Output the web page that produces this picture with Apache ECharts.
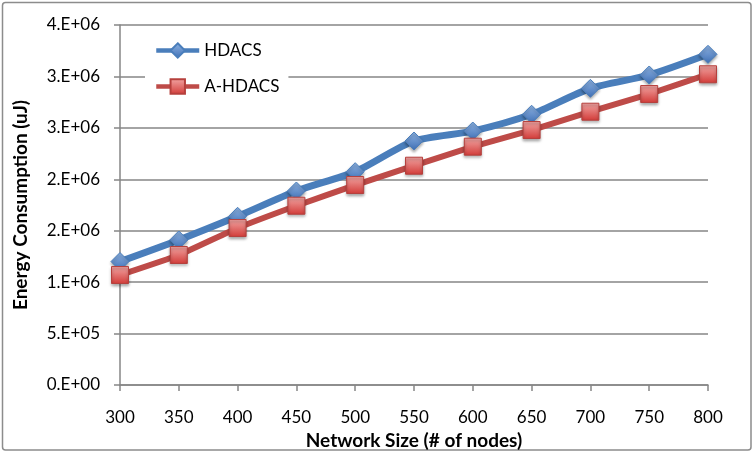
<!DOCTYPE html>
<html>
<head>
<meta charset="utf-8">
<script src="https://cdn.jsdelivr.net/npm/echarts@6/dist/echarts.min.js"></script>
<style>
  html, body { margin: 0; padding: 0; background: #fff; }
  #main { width: 753px; height: 454px; }
</style>
</head>
<body>
<div id="main"></div>
<script>
// 数据
var sizes = ['300', '350', '400', '450', '500', '550', '600', '650', '700', '750', '800'];
var hdacs = [1.20e6, 1.41e6, 1.64e6, 1.886e6, 2.074e6, 2.372e6, 2.469e6, 2.632e6, 2.884e6, 3.014e6, 3.215e6];
var aHdacs = [1.069e6, 1.264e6, 1.526e6, 1.743e6, 1.944e6, 2.132e6, 2.317e6, 2.479e6, 2.657e6, 2.829e6, 3.021e6];
var yTickLabels = ['0.E+00', '5.E+05', '1.E+06', '2.E+06', '2.E+06', '3.E+06', '3.E+06', '4.E+06'];

var font = 'Lato, "Liberation Sans", sans-serif';
var chart = echarts.init(document.getElementById('main'));

var option = {
  animation: false,
  textStyle: { fontFamily: font },
  // 外框
  graphic: [{
    type: 'rect',
    z: -10,
    shape: { x: 2.5, y: 2.5, width: 748.5, height: 447.5, r: 3 },
    style: { fill: 'none', stroke: '#8c8c8c', lineWidth: 1.5 }
  }],
  grid: { left: 120, right: 45, top: 25, bottom: 69, outerBoundsMode: 'none' },
  legend: {
    orient: 'vertical',
    left: 145,
    top: 38,
    itemWidth: 43,
    itemHeight: 18,
    itemGap: 19,
    padding: [4, 9, 4, 9],
    backgroundColor: '#fff',
    lineStyle: { width: 4.5 },
    textStyle: { fontSize: 17, color: '#000', fontFamily: font },
    data: ['HDACS', 'A-HDACS']
  },
  xAxis: {
    type: 'category',
    data: sizes,
    boundaryGap: false,
    name: 'Network Size (# of nodes)',
    nameLocation: 'middle',
    nameGap: 36,
    nameTextStyle: { fontSize: 19, fontWeight: 'bold', color: '#000', fontFamily: font },
    axisLine: { lineStyle: { color: '#868686', width: 1.5 } },
    axisTick: { show: true, length: 6, lineStyle: { color: '#868686', width: 1.5 } },
    axisLabel: { fontSize: 17, color: '#000', margin: 24, fontFamily: font }
  },
  yAxis: {
    type: 'value',
    min: 0,
    max: 3500000,
    interval: 500000,
    name: 'Energy Consumption (uJ)',
    nameLocation: 'middle',
    nameGap: 90,
    nameTextStyle: { fontSize: 19, fontWeight: 'bold', color: '#000', fontFamily: font },
    axisLine: { show: true, lineStyle: { color: '#868686', width: 1.5 } },
    axisTick: { show: true, length: 6, lineStyle: { color: '#868686', width: 1.5 } },
    splitLine: { lineStyle: { color: '#868686', width: 1.5 } },
    axisLabel: {
      fontSize: 17, color: '#000', margin: 20, fontFamily: font,
      formatter: function (v) { return yTickLabels[Math.round(v / 500000)]; }
    }
  },
  series: [
    {
      name: 'HDACS',
      type: 'line',
      data: hdacs,
      smooth: 0.25,
      symbol: 'diamond',
      symbolSize: 18,
      lineStyle: { color: '#4a7ebb', width: 7 },
      itemStyle: {
        color: new echarts.graphic.LinearGradient(0, 0, 0, 1, [
          { offset: 0, color: '#8fb4e3' },
          { offset: 1, color: '#3f6fb5' }
        ]),
        borderColor: '#4a7ebb',
        borderWidth: 1,
        shadowBlur: 3,
        shadowOffsetY: 2,
        shadowColor: 'rgba(0,0,0,0.35)'
      }
    },
    {
      name: 'A-HDACS',
      type: 'line',
      data: aHdacs,
      smooth: 0.15,
      symbol: 'rect',
      symbolSize: 17,
      lineStyle: { color: '#be4b48', width: 6 },
      itemStyle: {
        color: new echarts.graphic.LinearGradient(0, 0, 0, 1, [
          { offset: 0, color: '#f2a6a4' },
          { offset: 1, color: '#d23b38' }
        ]),
        borderColor: '#b6403d',
        borderWidth: 1,
        shadowBlur: 3,
        shadowOffsetY: 2,
        shadowColor: 'rgba(0,0,0,0.35)'
      }
    }
  ]
};

chart.setOption(option);
</script>
</body>
</html>
